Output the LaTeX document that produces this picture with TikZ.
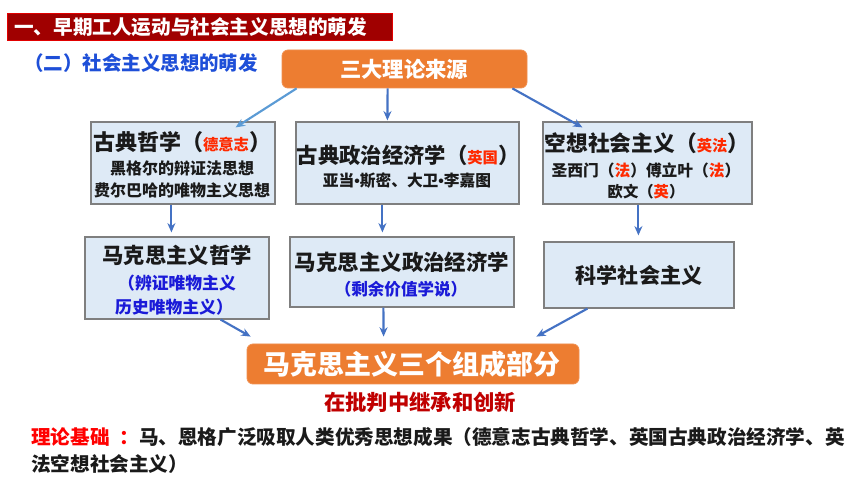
\documentclass[tikz,border=0pt]{standalone}
\usepackage{fontspec}
\setmainfont{Noto Sans CJK SC}
\newfontfamily\ltn{Liberation Sans}
\usetikzlibrary{calc,fit,arrows.meta}
\definecolor{titlered}{HTML}{A00000}
\definecolor{subblue}{HTML}{1E4FD8}
\definecolor{orng}{HTML}{ED7D31}
\definecolor{boxfill}{HTML}{DEEAF6}
\definecolor{boxline}{HTML}{7F7F7F}
\definecolor{arrblue}{HTML}{4472C4}
\definecolor{arrlight}{HTML}{5B9BD5}
\definecolor{redtxt}{HTML}{FF2A00}
\definecolor{bluetxt}{HTML}{1A1AD8}
\definecolor{darkred}{HTML}{C00000}
\definecolor{txt}{HTML}{1A1A1A}
\tikzset{
  box/.style={draw=boxline, line width=0.9pt, fill=boxfill, inner sep=0pt, rectangle},
  obox/.style={fill=orng, draw=orng!85!white, line width=0.6pt, rounded corners=4.5pt, inner sep=0pt, rectangle},
  lbl/.style={inner sep=0pt, anchor=center, text=txt},
  arr/.style={draw=arrblue, line width=1.6pt, -{Stealth[length=7pt,width=6pt]}},
  arrl/.style={draw=arrlight, line width=1.6pt, -{Stealth[length=7pt,width=6pt]}},
}
\newcommand\rt[1]{{\fontsize{11.5pt}{12pt}\selectfont\textcolor{redtxt}{#1}}}
\newcommand\mdot{{\ltn\bfseries\char"2022}}
\begin{document}
\begin{tikzpicture}[x=0.75pt,y=-0.75pt]
\useasboundingbox (0,0) rectangle (860,484);
\fill[white] (0,0) rectangle (860,484);
% title bar
\node[fill=titlered, draw=red!70!titlered, line width=0.6pt, inner sep=0pt, fit={(7,13) (392,40)}] (tbar) {};
\node[lbl, anchor=west, text=white, font=\fontsize{14.7pt}{15pt}\selectfont\bfseries] (ttext) at (14,27) {一、早期工人运动与社会主义思想的萌发};
\node[lbl, anchor=west, text=subblue, font=\fontsize{14.6pt}{15pt}\selectfont\bfseries] (sub) at (24,63) {（二）社会主义思想的萌发};
% top orange
\node[obox, fit={(282,50) (527,88)}] (o1) {};
\node[lbl, text=white, font=\fontsize{16pt}{17pt}\selectfont\bfseries] (o1t) at (404,69) {三大理论来源};
% row 1
\node[box, fit={(91,122) (275,204)}] (b1) {};
\node[lbl, font=\fontsize{16.5pt}{17pt}\selectfont\bfseries] (b1a) at (182,142) {古典哲学（\rt{德意志}）};
\node[lbl, font=\fontsize{12pt}{13pt}\selectfont\bfseries] (b1b) at (182,168) {黑格尔的辩证法思想};
\node[lbl, font=\fontsize{12pt}{13pt}\selectfont\bfseries] (b1c) at (182,190) {费尔巴哈的唯物主义思想};
\node[box, fit={(296,122) (519,204)}] (b2) {};
\node[lbl, font=\fontsize{16pt}{17pt}\selectfont\bfseries] (b2a) at (408,155) {古典政治经济学（\rt{英国}）};
\node[lbl, font=\fontsize{11.8pt}{13pt}\selectfont\bfseries] (b2b) at (407,181) {亚当\mdot 斯密、大卫\mdot 李嘉图};
\node[box, fit={(543,122) (752,204)}] (b3) {};
\node[lbl, font=\fontsize{16.3pt}{17pt}\selectfont\bfseries] (b3a) at (647,143) {空想社会主义（\rt{英法}）};
\node[lbl, font=\fontsize{11.8pt}{13pt}\selectfont\bfseries] (b3b) at (646,170) {圣西门（\textcolor{redtxt}{法}）傅立叶（\textcolor{redtxt}{法}）};
\node[lbl, font=\fontsize{11.5pt}{13pt}\selectfont\bfseries] (b3c) at (646,192) {欧文（\textcolor{redtxt}{英}）};
% row 2
\node[box, fit={(85,237) (269,319)}] (b4) {};
\node[lbl, font=\fontsize{16pt}{17pt}\selectfont\bfseries] (b4a) at (177,255) {马克思主义哲学};
\node[lbl, text=bluetxt, font=\fontsize{12.6pt}{13pt}\selectfont\bfseries] (b4b) at (177,283) {（辨证唯物主义};
\node[lbl, text=bluetxt, font=\fontsize{12.6pt}{13pt}\selectfont\bfseries] (b4c) at (174,307) {历史唯物主义）};
\node[box, fit={(290,237) (514,307)}] (b5) {};
\node[lbl, font=\fontsize{16.1pt}{17pt}\selectfont\bfseries] (b5a) at (402,262) {马克思主义政治经济学};
\node[lbl, text=bluetxt, font=\fontsize{12.4pt}{13pt}\selectfont\bfseries] (b5b) at (401,289) {（剩余价值学说）};
\node[box, fit={(544,242) (734,308)}] (b6) {};
\node[lbl, font=\fontsize{15.8pt}{17pt}\selectfont\bfseries] (b6a) at (639,275) {科学社会主义};
% bottom orange
\node[obox, fit={(247,344) (579,384)}] (o2) {};
\node[lbl, text=white, font=\fontsize{20.2pt}{21pt}\selectfont\bfseries] (o2t) at (412,364) {马克思主义三个组成部分};
\node[lbl, text=darkred, font=\fontsize{16pt}{17pt}\selectfont\bfseries] (crit) at (420,402) {在批判中继承和创新};
% bottom text
\node[lbl, anchor=west, font=\fontsize{14.7pt}{15pt}\selectfont\bfseries] (base1) at (31,437) {\textcolor{red}{理论基础\hspace{0.5em}：}马、恩格广泛吸取人类优秀思想成果（德意志古典哲学、英国古典政治经济学、英};
\node[lbl, anchor=west, font=\fontsize{14.7pt}{15pt}\selectfont\bfseries] (base2) at (31,464) {法空想社会主义）};
% arrows
\draw[arrl] ($(o1.south west)+(15,0)$) -- ($(b1.north east)+(-40,6)$);
\draw[arr] ($(o1.south west)+(106,0)$) -- ($(b2.north west)+(92,-1)$);
\draw[arr] ($(o1.south east)+(-15,0)$) -- ($(b3.north west)+(40,6)$);
\draw[arr] ($(b1.south west)+(81,0)$) -- ($(b4.north west)+(87,-4)$);
\draw[arr] ($(b2.south west)+(87,0)$) -- ($(b5.north west)+(93,-4)$);
\draw[arr] ($(b3.south west)+(96,0)$) -- ($(b6.north west)+(95,-6)$);
\draw[arr] ($(b4.south east)+(-49,0)$) -- ($(o2.north west)+(4,-7)$);
\draw[arr] ($(b5.south west)+(94,0)$) -- ($(o2.north west)+(137,-7)$);
\draw[arr] ($(b6.south west)+(44,0)$) -- ($(o2.north east)+(-43,-7)$);
\end{tikzpicture}
\end{document}
